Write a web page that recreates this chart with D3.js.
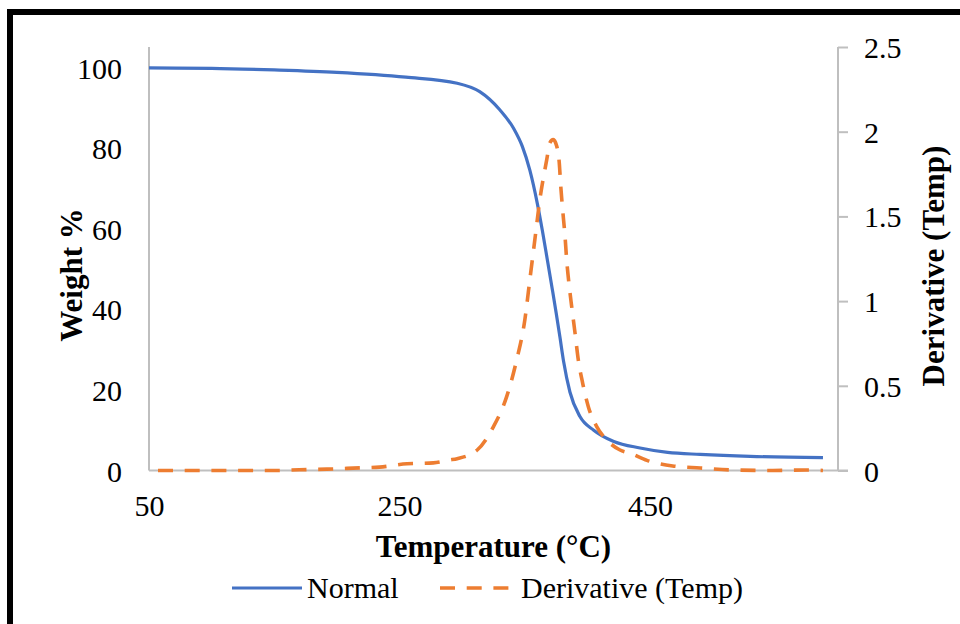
<!DOCTYPE html>
<html>
<head>
<meta charset="utf-8">
<script src="https://cdn.jsdelivr.net/npm/d3@7"></script>
<style>
  body { margin: 0; background: #fff; }
  svg { display: block; }
  .tick text { font-family: "Liberation Serif", "Times New Roman", serif; font-size: 30px; fill: #000; }
  .title { font-family: "Liberation Serif", "Times New Roman", serif; font-size: 31px; font-weight: bold; fill: #000; }
  .legend text { font-family: "Liberation Serif", "Times New Roman", serif; font-size: 30px; fill: #000; }
</style>
</head>
<body>
<div class="chart"></div>
<script>
//----------------------------------------------------------------------------------------------------------------------
// TGA CURVE
//----------------------------------------------------------------------------------------------------------------------

// weight loss (Normal)
var normalTemp   = [50, 100, 150, 200, 255, 296, 314, 330, 341, 348, 354, 360, 364, 368, 372, 375, 378, 381, 386, 394, 405, 421, 442, 464, 490, 530, 588];
var normalWeight = [100, 99.9, 99.5, 98.9, 97.7, 96.2, 94.1, 89.6, 85.0, 80.5, 74.6, 66.3, 59.6, 52.3, 44.9, 39.2, 33.2, 27.0, 19.5, 13.4, 10, 7.2, 5.6, 4.5, 4, 3.5, 3.2];

// derivative (Temp)
var derivTemp  = [50, 150, 170, 192, 213, 234, 256, 277, 290, 296, 312, 325, 335.5, 343.5, 350, 354, 358, 362, 367.5, 370, 372.7, 375.5, 377.5, 378.7, 380.2, 382.1, 383.4, 385.5, 387.4, 390.1, 392.7, 396.2, 400.7, 407.4, 415.4, 426, 434, 447.5, 468, 490, 516, 548, 575, 588];
var derivValue = [0, 0, 0.004, 0.008, 0.014, 0.02, 0.04, 0.045, 0.062, 0.07, 0.121, 0.259, 0.436, 0.653, 0.889, 1.126, 1.362, 1.599, 1.835, 1.934, 1.953, 1.914, 1.816, 1.677, 1.54, 1.382, 1.244, 1.086, 0.968, 0.811, 0.653, 0.515, 0.377, 0.259, 0.18, 0.121, 0.102, 0.06, 0.027, 0.015, 0.003, 0, 0.003, 0];

var xTicks     = [50, 250, 450];
var leftTicks  = [0, 20, 40, 60, 80, 100];
var rightTicks = [0, 0.5, 1, 1.5, 2, 2.5];

var width = 960,
    height = 624;

var plot = { left: 149, right: 838, top: 47, bottom: 470.5 };

var svg = d3.select("body").select(".chart").append("svg")
  .attr("width", width)
  .attr("height", height);

// frame
svg.append("path")
  .attr("d", "M10," + height + "V12H" + width)
  .attr("fill", "none")
  .attr("stroke", "#000")
  .attr("stroke-width", 6);

var x = d3.scaleLinear().domain([50, 600]).range([plot.left, plot.right]);
var yLeft = d3.scaleLinear().domain([0, 105.2]).range([plot.bottom, plot.top]);
var yRight = d3.scaleLinear().domain([0, 2.5]).range([plot.bottom, plot.top]);

// axes
var gLeft = svg.append("g")
  .attr("transform", "translate(" + plot.left + ",0)")
  .call(d3.axisLeft(yLeft).tickValues(leftTicks).tickSize(0).tickPadding(27));
gLeft.selectAll(".tick text").attr("dy", "0.35em");

var gRight = svg.append("g")
  .attr("transform", "translate(" + plot.right + ",0)")
  .call(d3.axisRight(yRight).tickValues(rightTicks).tickSize(10).tickPadding(16)
    .tickFormat(function(d) { return String(d); }));
gRight.selectAll(".tick text").attr("dy", "0.35em");

var gBottom = svg.append("g")
  .attr("transform", "translate(0," + plot.bottom + ")")
  .call(d3.axisBottom(x).tickValues(xTicks).tickSize(0).tickPadding(24));
gBottom.selectAll(".tick text").attr("dy", "0.71em");

svg.selectAll(".domain, .tick line")
  .attr("stroke", "#bfbfbf")
  .attr("stroke-width", 2);
gBottom.select(".domain").attr("d", "M" + plot.left + ",0H" + (plot.right + 10));
gLeft.select(".domain").attr("d", "M0," + plot.top + "V" + plot.bottom);
gRight.select(".domain").attr("d", "M0," + plot.top + "V" + plot.bottom);

// titles
svg.append("text")
  .attr("class", "title")
  .attr("text-anchor", "middle")
  .attr("x", (plot.left + plot.right) / 2)
  .attr("y", 557)
  .text("Temperature (°C)");

svg.append("text")
  .attr("class", "title")
  .attr("text-anchor", "middle")
  .attr("transform", "translate(82,275) rotate(-90)")
  .text("Weight %");

svg.append("text")
  .attr("class", "title")
  .attr("text-anchor", "middle")
  .attr("transform", "translate(944,266) rotate(-90)")
  .text("Derivative (Temp)");

// lines
var normalLine = d3.line()
  .x(function(d, i) { return x(normalTemp[i]); })
  .y(function(d) { return yLeft(d); })
  .curve(d3.curveMonotoneX);

var derivLine = d3.line()
  .x(function(d, i) { return x(derivTemp[i]); })
  .y(function(d) { return yRight(d); })
  .curve(d3.curveMonotoneX);

svg.append("path")
  .attr("d", normalLine(normalWeight))
  .attr("fill", "none")
  .attr("stroke", "#4472c4")
  .attr("stroke-width", 3.2)
  .attr("stroke-linejoin", "round");

svg.append("path")
  .attr("d", derivLine(derivValue))
  .attr("fill", "none")
  .attr("stroke", "#ed7d31")
  .attr("stroke-width", 3.6)
  .attr("stroke-dasharray", "15,11.7")
  .attr("stroke-dashoffset", 17.7);

// legend
var legend = svg.append("g").attr("class", "legend");

legend.append("line")
  .attr("x1", 232).attr("x2", 302)
  .attr("y1", 588).attr("y2", 588)
  .attr("stroke", "#4472c4")
  .attr("stroke-width", 3.2);
legend.append("text")
  .attr("x", 307).attr("y", 598)
  .text("Normal");

legend.append("line")
  .attr("x1", 440).attr("x2", 516)
  .attr("y1", 588).attr("y2", 588)
  .attr("stroke", "#ed7d31")
  .attr("stroke-width", 3.6)
  .attr("stroke-dasharray", "15,11.7");
legend.append("text")
  .attr("x", 521).attr("y", 598)
  .text("Derivative (Temp)");
</script>
</body>
</html>
